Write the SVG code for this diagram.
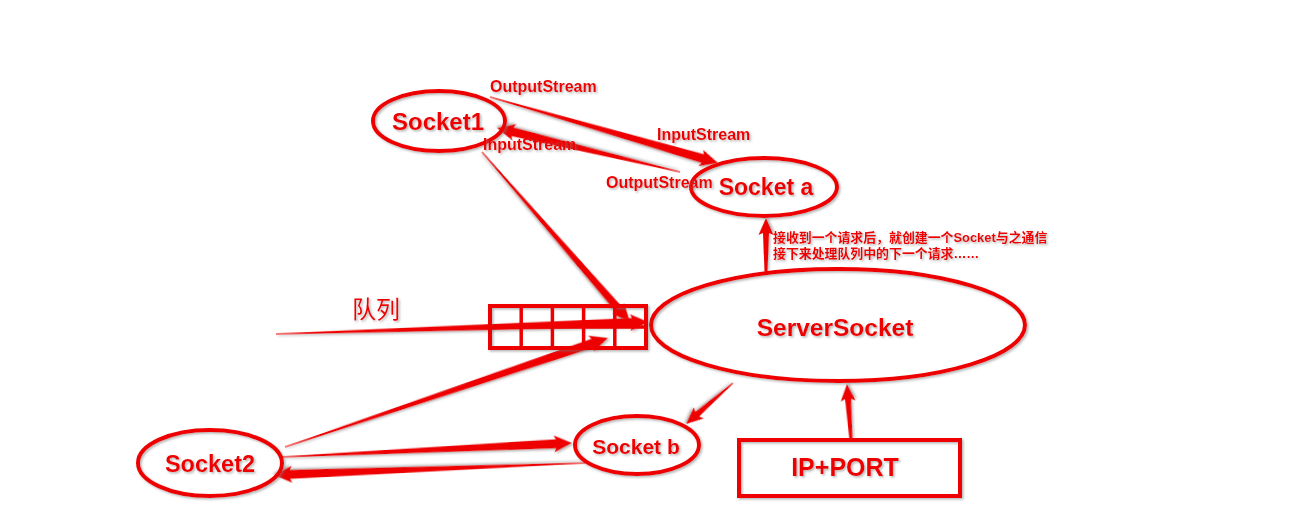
<svg xmlns="http://www.w3.org/2000/svg" width="1300" height="521" viewBox="0 0 1300 521">
<defs>
<filter id="sh" x="-10%" y="-10%" width="130%" height="140%">
<feDropShadow dx="1.5" dy="1.5" stdDeviation="1" flood-color="#777" flood-opacity="0.55"/>
</filter>
</defs>
<style>
.sh{fill:none;stroke:#ee0000;stroke-width:4;filter:url(#sh)}
.ar{fill:#ee0000;filter:url(#sh)}
.lb{font-family:"Liberation Sans",Arial,sans-serif;font-weight:bold;fill:#ee0000;text-anchor:middle;filter:url(#sh)}
.st{font-family:"Liberation Sans",Arial,sans-serif;font-weight:bold;font-size:16px;fill:#ee0000;filter:url(#sh)}
.cn{font-family:"Liberation Sans","Noto Sans CJK SC",sans-serif;font-weight:bold;fill:#ee0000;filter:url(#sh)}
</style>
<rect width="1300" height="521" fill="#fff"/>
<g id="connectors">
<polygon class="ar" transform="translate(490,97) rotate(16.14)" points="0,-0.5 221.4,-4.5 219.4,-8.5 237.4,0 219.4,8.5 221.4,4.5 0,0.5"/>
<polygon class="ar" transform="translate(680,172) rotate(193.5)" points="0,-0.5 172.2,-4.5 170.2,-8.5 188.2,0 170.2,8.5 172.2,4.5 0,0.5"/>
<polygon class="ar" transform="translate(482,152) rotate(48.96)" points="0,-0.5 209.4,-4 207.4,-8 225.4,0 207.4,8 209.4,4 0,0.5"/>
<polygon class="ar" transform="translate(276,334) rotate(-1.85)" points="0,-0.5 356.2,-4.5 354.2,-8.5 372.2,0 354.2,8.5 356.2,4.5 0,0.5"/>
<polygon class="ar" transform="translate(285,447) rotate(-18.65)" points="0,-0.5 324.9,-4.5 322.9,-8.5 340.9,0 322.9,8.5 324.9,4.5 0,0.5"/>
<polygon class="ar" transform="translate(733,383) rotate(138.9)" points="0,-0.5 47.4,-3 45.4,-7.5 62.4,0 45.4,7.5 47.4,3 0,0.5"/>
<polygon class="ar" transform="translate(851,440) rotate(-94.1)" points="0,-1.5 41.1,-3 39.1,-7.5 56.1,0 39.1,7.5 41.1,3 0,1.5"/>
<polygon class="ar" transform="translate(766,272) rotate(-90)" points="0,-1.5 39,-3 37,-7.5 54,0 37,7.5 39,3 0,1.5"/>
<polygon class="ar" transform="translate(282,457) rotate(-2.76)" points="0,-0.5 274.3,-4.5 272.3,-8.5 290.3,0 272.3,8.5 274.3,4.5 0,0.5"/>
<polygon class="ar" transform="translate(585,463) rotate(177.79)" points="0,-0.5 295.2,-4.5 293.2,-8.5 311.2,0 293.2,8.5 295.2,4.5 0,0.5"/>
</g>
<g id="socket1">
<ellipse class="sh" cx="439" cy="121" rx="66" ry="30"/>
<text class="lb" x="438" y="130" font-size="24">Socket1</text>
</g>
<g id="socketa">
<ellipse class="sh" cx="764" cy="187" rx="73" ry="29"/>
<text class="lb" x="766" y="195" font-size="23">Socket a</text>
</g>
<g id="serversocket">
<ellipse class="sh" cx="838" cy="325" rx="187" ry="56"/>
<text class="lb" x="835" y="336" font-size="24.5">ServerSocket</text>
</g>
<g id="ipport">
<rect class="sh" x="739" y="440" width="221" height="56"/>
<text class="lb" x="845" y="476" font-size="25">IP+PORT</text>
</g>
<g id="socketb">
<ellipse class="sh" cx="637" cy="445" rx="62" ry="29"/>
<text class="lb" x="636" y="454" font-size="21">Socket b</text>
</g>
<g id="socket2">
<ellipse class="sh" cx="210" cy="463" rx="72" ry="33"/>
<text class="lb" x="210" y="472" font-size="23.5">Socket2</text>
</g>
<g id="queue">
<rect class="sh" x="490" y="306" width="156" height="42"/>
<g stroke="#ee0000" stroke-width="3.5">
<line x1="490" y1="327" x2="646" y2="327"/>
<line x1="521.2" y1="306" x2="521.2" y2="348"/>
<line x1="552.4" y1="306" x2="552.4" y2="348"/>
<line x1="583.6" y1="306" x2="583.6" y2="348"/>
<line x1="614.8" y1="306" x2="614.8" y2="348"/>
</g>
<text class="cn" x="352" y="318" font-size="24" style="font-weight:normal">队列</text>
</g>
<g id="labels">
<text class="st" x="490" y="92">OutputStream</text>
<text class="st" x="657" y="140">InputStream</text>
<text class="st" x="483" y="150">InputStream</text>
<text class="st" x="606" y="188">OutputStream</text>
<text class="cn" x="773" y="242" font-size="12.9">接收到一个请求后，就创建一个Socket与之通信</text>
<text class="cn" x="773" y="258" font-size="12.9">接下来处理队列中的下一个请求……</text>
</g>
</svg>
